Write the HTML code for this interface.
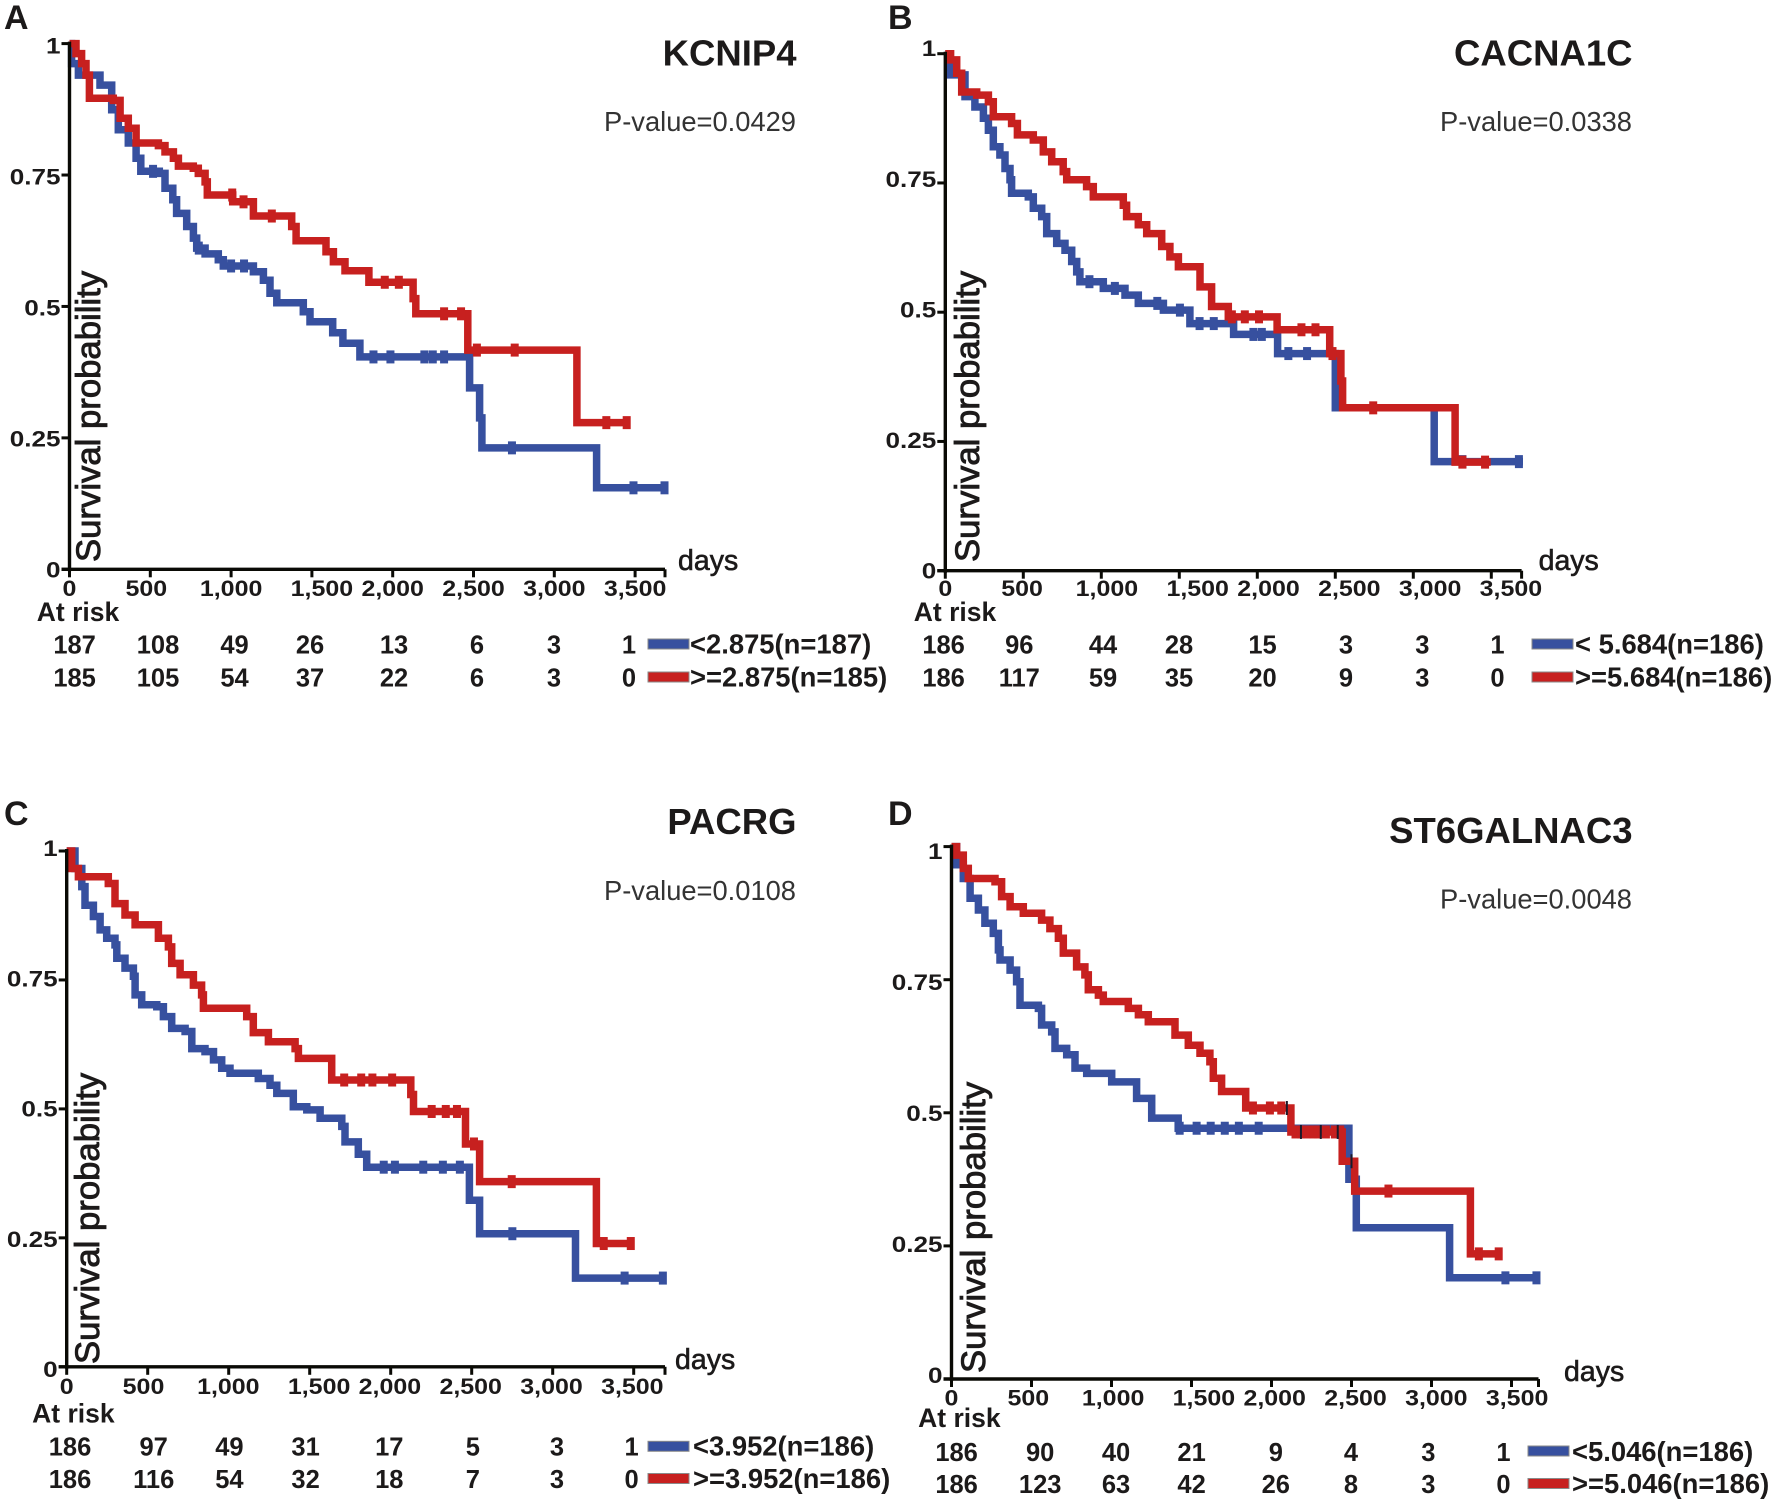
<!DOCTYPE html>
<html lang="en">
<head>
<meta charset="utf-8">
<title>Survival curves</title>
<style>
html,body{margin:0;padding:0;background:#fff;}
svg{display:block;font-family:"Liberation Sans",Arial,sans-serif;}
text{fill:#1c1a1a;}
</style>
</head>
<body>
<svg id="figure" xmlns="http://www.w3.org/2000/svg" width="1772" height="1502" viewBox="0 0 1772 1502"></svg>
<script>
// Shared axis values
const xTickValues = [0, 500, 1000, 1500, 2000, 2500, 3000, 3500];
const xTickLabels = ['0', '500', '1,000', '1,500', '2,000', '2,500', '3,000', '3,500'];
const yTickValues = [0, 0.25, 0.5, 0.75, 1];
const yTickLabels = ['0', '0.25', '0.5', '0.75', '1'];

// Panel A: KCNIP4
const aLowDays = [13,55,189,261,302,364,412,441,556,591,639,663,725,767,787,839,921,952,1138,1200,1241,1283,1447,1488,1629,1692,1797,2476,2538,2552,3262];
const aLowSurv = [.962,.940,.921,.874,.836,.811,.782,.757,.753,.725,.703,.677,.652,.630,.611,.600,.589,.577,.566,.550,.525,.507,.490,.471,.450,.430,.404,.345,.288,.231,.155];
const aLowEnd = 3692;
const aLowCensor = [517,800,1000,1080,1881,1986,2196,2248,2318,2738,3490,3682];
const aHighDays = [40,75,102,123,271,313,364,412,550,591,643,674,766,797,839,853,1010,1138,1375,1402,1587,1633,1705,1853,2126,2143,2465,3140];
const aHighSurv = [.981,.962,.940,.896,.892,.858,.839,.811,.806,.794,.782,.767,.763,.753,.737,.712,.699,.672,.652,.625,.604,.585,.568,.546,.515,.486,.417,.279];
const aHighEnd = 3462;
const aHighCensor = [1007,1077,1252,1951,2038,2318,2423,2521,2755,3322,3448];
const aRiskLow = [187,108,49,26,13,6,3,1];
const aRiskHigh = [185,105,54,37,22,6,3,0];

// Panel B: CACNA1C
const bLowDays = [30,126,190,244,276,308,350,383,415,425,532,564,618,650,714,767,810,842,863,1013,1152,1237,1398,1568,1848,2130,2500,3134];
const bLowSurv = [.959,.917,.897,.875,.852,.820,.804,.778,.756,.730,.723,.701,.685,.652,.633,.620,.598,.578,.559,.546,.533,.517,.504,.478,.457,.420,.315,.211];
const bLowEnd = 3703;
const bLowCensor = [924,1087,1359,1504,1630,1721,1975,2029,2199,2319,3315,3677];
const bHighDays = [34,73,105,201,276,308,425,462,564,628,682,756,778,906,949,1141,1162,1237,1291,1387,1440,1494,1633,1707,1814,2127,2464,2536,2547,3268];
const bHighSurv = [.988,.962,.926,.920,.907,.878,.865,.843,.833,.810,.791,.772,.756,.743,.723,.707,.685,.669,.652,.627,.607,.588,.549,.511,.491,.466,.420,.367,.315,.210];
const bHighEnd = 3496;
const bHighCensor = [1837,1920,2011,2283,2373,2482,2743,3315,3460];
const bRiskLow = [186,96,44,28,15,3,3,1];
const bRiskHigh = [186,117,59,35,20,9,3,0];

// Panel C: PACRG
const cLowDays = [51,93,113,165,206,247,298,309,360,412,422,463,556,597,648,731,772,854,906,957,1008,1183,1255,1297,1399,1482,1564,1698,1718,1800,1852,2486,2549,3141];
const cLowSurv = [.966,.931,.895,.873,.847,.831,.818,.792,.773,.757,.721,.702,.698,.679,.656,.650,.617,.611,.595,.579,.569,.559,.546,.530,.504,.498,.482,.466,.436,.412,.387,.323,.258,.172];
const cLowEnd = 3698;
const cLowCensor = [1957,2026,2201,2322,2427,2751,3444,3680];
const cHighDays = [31,72,257,298,360,422,566,628,648,700,782,833,844,1111,1152,1245,1410,1430,1636,2124,2141,2462,2549,3270];
const cHighSurv = [.966,.950,.937,.898,.876,.857,.831,.814,.782,.760,.740,.721,.695,.679,.648,.630,.617,.598,.556,.528,.495,.432,.359,.239];
const cHighEnd = 3496;
const cHighCensor = [1713,1818,1887,2009,2253,2340,2409,2514,2747,3315,3482];
const cRiskLow = [186,97,49,31,17,5,3,1];
const cRiskHigh = [186,116,54,32,18,7,3,0];

// Panel D: ST6GALNAC3
const dLowDays = [32,74,116,168,209,261,293,303,366,407,428,543,563,626,647,720,772,845,1001,1157,1251,1417,2484,2530,3113];
const dLowSurv = [.966,.940,.903,.881,.856,.837,.806,.787,.768,.746,.702,.696,.665,.652,.621,.609,.584,.574,.558,.527,.490,.471,.375,.284,.190];
const dLowEnd = 3677;
const dLowCensor = [1426,1532,1620,1708,1796,1920,3462,3656];
const dHighDays = [32,74,105,272,313,366,449,563,615,668,699,782,834,855,918,949,1105,1168,1230,1397,1480,1553,1615,1636,1688,1839,2121,2442,2520,3243];
const dHighSurv = [.984,.959,.940,.934,.906,.887,.875,.862,.846,.828,.800,.774,.759,.731,.721,.709,.696,.684,.671,.646,.627,.612,.596,.565,.540,.509,.464,.409,.353,.235];
const dHighEnd = 3437;
const dHighCensor = [1884,1990,2061,2150,2184,2220,2260,2290,2340,2396,2430,2731,3296,3420];
const dOverlapCensor = [2096,2184,2308,2414,2500];
const dRiskLow = [186,90,40,21,9,4,3,1];
const dRiskHigh = [186,123,63,42,26,8,3,0];

// Layout only (not data)
const panels = [
  {id:'a',letter:'A',title:'KCNIP4',pvalue:'P-value=0.0429',x0:69.5,y0:569.3,y1:43.6,per500:80.8,axisEnd:665,labelBase:569.3,labelSpan:524,tickBase:596,atRiskX:78,atRiskY:621,rowY:[654,687],riskCols:[74.6,158,234.5,310,394,477,554,629],swatchX:648,swatchY:[644,677],legendX:690,legendLow:'<2.875(n=187)',legendHigh:'>=2.875(n=185)',titleRight:796.5,titleY:65.6,pY:131,letterX:4,letterY:29,daysX:678,daysY:570,spX:100,spY:562,
   low:[aLowDays,aLowSurv,aLowEnd,aLowCensor],high:[aHighDays,aHighSurv,aHighEnd,aHighCensor],riskLow:aRiskLow,riskHigh:aRiskHigh},
  {id:'b',letter:'B',title:'CACNA1C',pvalue:'P-value=0.0338',x0:945.3,y0:570.7,y1:53.7,per500:78,axisEnd:1521.6,labelBase:570.7,labelSpan:522.5,tickBase:596,atRiskX:955,atRiskY:621,rowY:[654,687],riskCols:[943.6,1019.3,1103,1179,1262.5,1346,1422.3,1497.5],swatchX:1532,swatchY:[644,677],legendX:1575,legendLow:'< 5.684(n=186)',legendHigh:'>=5.684(n=186)',titleRight:1632.5,titleY:65.6,pY:131,letterX:888,letterY:29,daysX:1538.6,daysY:570,spX:979,spY:562,
   low:[bLowDays,bLowSurv,bLowEnd,bLowCensor],high:[bHighDays,bHighSurv,bHighEnd,bHighCensor],riskLow:bRiskLow,riskHigh:bRiskHigh},
  {id:'c',letter:'C',title:'PACRG',pvalue:'P-value=0.0108',x0:66.7,y0:1366.8,y1:851,per500:81,axisEnd:665,labelBase:1369,labelSpan:521,tickBase:1394,atRiskX:73.4,atRiskY:1422.4,rowY:[1456,1488.5],riskCols:[70,153.7,229.4,305.6,389.3,472.9,557,631.6],swatchX:648,swatchY:[1446.3,1478.5],legendX:693,legendLow:'<3.952(n=186)',legendHigh:'>=3.952(n=186)',titleRight:796.5,titleY:834,pY:900,letterX:4,letterY:825,daysX:675,daysY:1369,spX:99,spY:1364,
   low:[cLowDays,cLowSurv,cLowEnd,cLowCensor],high:[cHighDays,cHighSurv,cHighEnd,cHighCensor],riskLow:cRiskLow,riskHigh:cRiskHigh},
  {id:'d',letter:'D',title:'ST6GALNAC3',pvalue:'P-value=0.0048',x0:951.5,y0:1379,y1:846.6,per500:80,axisEnd:1538.5,labelBase:1375,labelSpan:524,tickBase:1405.5,atRiskX:959.4,atRiskY:1427,rowY:[1461.5,1493.7],riskCols:[956.6,1040.2,1116,1191.6,1275.8,1351,1428.4,1503.5],swatchX:1528,swatchY:[1451,1483.5],legendX:1572,legendLow:'<5.046(n=186)',legendHigh:'>=5.046(n=186)',titleRight:1632.5,titleY:843,pY:908.6,letterX:888,letterY:825,daysX:1564,daysY:1381,spX:985,spY:1373,
   low:[dLowDays,dLowSurv,dLowEnd,dLowCensor],high:[dHighDays,dHighSurv,dHighEnd,dHighCensor],riskLow:dRiskLow,riskHigh:dRiskHigh,overlap:dOverlapCensor}
];

const BLUE = '#37509f';
const RED = '#c7201f';
const NS = 'http://www.w3.org/2000/svg';
const svg = document.getElementById('figure');

function mk(tag, parent, attrs) {
  const el = document.createElementNS(NS, tag);
  for (const k in attrs) el.setAttribute(k, attrs[k]);
  parent.appendChild(el);
  return el;
}
function label(parent, str, attrs) {
  const el = mk('text', parent, attrs);
  el.textContent = str;
  return el;
}
function survAt(days, surv, t) {
  let s = 1;
  for (let i = 0; i < days.length; i++) {
    if (days[i] <= t) s = surv[i];
  }
  return s;
}

panels.forEach(function (p) {
  const xScale = function (t) { return p.x0 + t / 500 * p.per500; };
  const yScale = function (s) { return p.y0 - s * (p.y0 - p.y1); };
  const labelX = function (t) {
    const nudge = t === 500 ? -4 : t === 1500 ? 10 : 0;
    return p.x0 + t / 500 * 80.8 + nudge;
  };
  const labelY = function (v) { return p.labelBase - v * p.labelSpan + 8; };

  const g = mk('g', svg, {});
  
  

  const letter = label(g, p.letter, {x: p.letterX, y: p.letterY, 'font-size': 34, 'font-weight': 'bold'});
  
  

  const title = label(g, p.title, {x: p.titleRight, y: p.titleY, 'font-size': 36.5, 'font-weight': 'bold', 'text-anchor': 'end'});
  
  

  const pv = label(g, p.pvalue, {x: p.titleRight - 0.5, y: p.pY, 'font-size': 27.3, 'text-anchor': 'end', style: 'fill:#333'});
  
  

  // Series
  [[p.low, BLUE, 'low'], [p.high, RED, 'high']].forEach(function (item) {
    const days = item[0][0], surv = item[0][1], end = item[0][2], censor = item[0][3];
    let d = 'M' + xScale(0).toFixed(1) + ' ' + yScale(1).toFixed(1);
    for (let i = 0; i < days.length; i++) {
      d += 'H' + xScale(days[i]).toFixed(1) + 'V' + yScale(surv[i]).toFixed(1);
    }
    d += 'H' + xScale(end).toFixed(1);
    const line = mk('path', g, {d: d, fill: 'none', stroke: item[1], 'stroke-width': 7.5, 'stroke-linejoin': 'miter'});
    
    
    censor.forEach(function (t) {
      const cx = xScale(t), cy = yScale(survAt(days, surv, t));
      const m = mk('rect', g, {x: cx - 4, y: cy - 6.5, width: 8, height: 13, fill: item[1]});
      
      
    });
  });
  if (p.overlap) {
    p.overlap.forEach(function (t) {
      const cx = xScale(t), cy = yScale(survAt(p.high[0], p.high[1], t));
      const m = mk('rect', g, {x: cx - 1, y: cy - 7, width: 2, height: 14, fill: '#1a1a2a'});
      
      
    });
  }

  // Axes
  const yAxis = mk('line', g, {x1: p.x0, x2: p.x0, y1: p.y1 - 2, y2: p.y0 + 2, stroke: '#0a0a05', 'stroke-width': 3.4});
  
  
  const xAxis = mk('line', g, {x1: p.x0 - 8, x2: p.axisEnd, y1: p.y0, y2: p.y0, stroke: '#0a0a05', 'stroke-width': 3.4});
  
  

  const endTick = mk('line', g, {x1: p.axisEnd, x2: p.axisEnd, y1: p.y0, y2: p.y0 + 8, stroke: '#0a0a05', 'stroke-width': 3});
  
  

  xTickValues.forEach(function (t, i) {
    const tick = mk('line', g, {x1: xScale(t), x2: xScale(t), y1: p.y0, y2: p.y0 + 8, stroke: '#0a0a05', 'stroke-width': 3});
    
    
    const tl = label(g, xTickLabels[i], {transform: 'translate(' + labelX(t) + ',' + p.tickBase + ') scale(1.11,1)', 'font-size': 22.5, 'font-weight': 'bold', 'text-anchor': 'middle'});
    
    
  });
  yTickValues.forEach(function (v, i) {
    const tick = mk('line', g, {x1: p.x0 - 8, x2: p.x0, y1: yScale(v), y2: yScale(v), stroke: '#0a0a05', 'stroke-width': 3});
    
    
    const tl = label(g, yTickLabels[i], {transform: 'translate(' + (p.x0 - 9) + ',' + labelY(v) + ') scale(1.16,1)', 'font-size': 22.5, 'font-weight': 'bold', 'text-anchor': 'end'});
    
    
  });

  const yTitle = label(g, 'Survival probability', {transform: 'translate(' + p.spX + ',' + p.spY + ') rotate(-90)', 'font-size': 34.7, stroke: '#1c1a1a', 'stroke-width': 0.9});
  
  

  const days = label(g, 'days', {x: p.daysX, y: p.daysY, 'font-size': 28.5, stroke: '#1c1a1a', 'stroke-width': 0.6});
  
  

  const atRisk = label(g, 'At risk', {x: p.atRiskX, y: p.atRiskY, 'font-size': 26.5, 'font-weight': 'bold', 'text-anchor': 'middle'});
  
  

  [p.riskLow, p.riskHigh].forEach(function (row, r) {
    row.forEach(function (n, i) {
      const t = label(g, String(n), {x: p.riskCols[i], y: p.rowY[r] - 0.5, 'font-size': 25.5, 'font-weight': 'bold', 'text-anchor': 'middle'});
      
      
    });
    const sw = mk('rect', g, {x: p.swatchX, y: p.swatchY[r] - 5, width: 41, height: 10, fill: r === 0 ? BLUE : RED, stroke: '#8a8a8a', 'stroke-width': 1});
    
    
    const lt = label(g, r === 0 ? p.legendLow : p.legendHigh, {x: p.legendX, y: p.rowY[r] - 0.5, 'font-size': 27.4, 'font-weight': 'bold'});
    
    
  });
});
</script>
</body>
</html>
